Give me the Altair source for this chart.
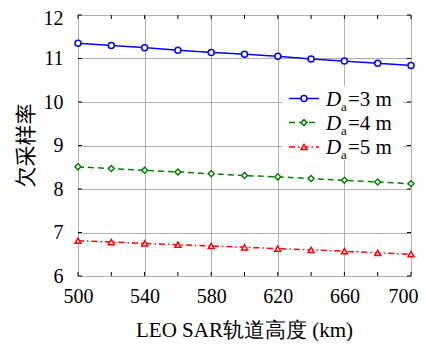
import altair as alt
import pandas as pd

heights = [500, 520, 540, 560, 580, 600, 620, 640, 660, 680, 700]
rate_3m = [11.35, 11.30, 11.25, 11.19, 11.14, 11.10, 11.05, 10.99, 10.94, 10.89, 10.84]
rate_4m = [8.51, 8.47, 8.43, 8.39, 8.35, 8.31, 8.28, 8.24, 8.20, 8.16, 8.12]
rate_5m = [6.81, 6.78, 6.75, 6.72, 6.69, 6.66, 6.63, 6.60, 6.57, 6.53, 6.50]
series_names = ["3 m", "4 m", "5 m"]
y_ticks = [6, 7, 8, 9, 10, 11, 12]
x_ticks = heights

rows = []
for name, vals in zip(series_names, [rate_3m, rate_4m, rate_5m]):
    for h, v in zip(heights, vals):
        rows.append({"h": h, "r": v, "s": name})
df = pd.DataFrame(rows)

W, H = 333, 261
TOP = 7
SERIF = "Liberation Serif"
colors = ["#0000ff", "#008000", "#ff0000"]
dashes = [[1, 0], [6, 4], [6, 3, 1.5, 3]]
shapes = ["circle", "diamond", "triangle-up"]

xenc = alt.X(
    "h:Q",
    scale=alt.Scale(domain=[500, 700], nice=False),
    axis=alt.Axis(
        values=x_ticks,
        labelExpr="(datum.value - 500) % 40 == 0 ? datum.label : ''",
        title="LEO SAR轨道高度 (km)",
        grid=True, gridColor="#b0b0b0", gridWidth=1,
        ticks=False, domain=False, labelFlush=False, labelOverlap=False,
        labelOffset={"condition": {"test": "datum.value == 700", "value": -8}, "value": 0},
        labelFont=SERIF, labelFontSize=20, labelColor="black", labelPadding=10,
        titleFont=SERIF, titleFontSize=21, titleFontWeight="normal", titleColor="black",
        titleX=166, titleY=60, titleBaseline="alphabetic", titleAlign="center",
    ),
)
yenc = alt.Y(
    "r:Q",
    scale=alt.Scale(domain=[6, 12], nice=False),
    axis=alt.Axis(
        values=y_ticks, format="d",
        title="欠采样率",
        grid=True, gridColor="#b0b0b0", gridWidth=1,
        ticks=False, domain=False, labelFlush=False, labelOverlap=False,
        labelOffset={"condition": {"test": "datum.value == 12", "value": 3}, "value": 0},
        labelFont=SERIF, labelFontSize=20, labelColor="black", labelPadding=15,
        titleFont="Noto Sans CJK SC", titleFontSize=21, titleFontWeight="normal", titleColor="black",
        titleX=-52, titleY=130, titleAngle=270, titleBaseline="middle", titleAlign="center",
    ),
)

cscale = alt.Scale(domain=series_names, range=colors)
base = alt.Chart(df)
lines = base.mark_line(strokeWidth=1.5).encode(
    x=xenc, y=yenc,
    color=alt.Color("s:N", scale=cscale, legend=None),
    strokeDash=alt.StrokeDash("s:N", scale=alt.Scale(domain=series_names, range=dashes), legend=None),
)
points = base.mark_point(filled=False, fill="white", strokeWidth=1.5, size=36, opacity=1).encode(
    x="h:Q", y="r:Q",
    color=alt.Color("s:N", scale=cscale, legend=None),
    shape=alt.Shape("s:N", scale=alt.Scale(domain=series_names, range=shapes), legend=None),
)

# inward ticks on all four sides
ytick_df = pd.DataFrame({"v": y_ticks})
xtick_df = pd.DataFrame({"v": x_ticks})
tick_layers = [
    alt.Chart(ytick_df).mark_rule(color="black", strokeWidth=1).encode(
        y="v:Q", x=alt.value(0), x2=alt.value(4)),
    alt.Chart(ytick_df).mark_rule(color="black", strokeWidth=1).encode(
        y="v:Q", x=alt.value(W - 4), x2=alt.value(W)),
    alt.Chart(xtick_df).mark_rule(color="black", strokeWidth=1).encode(
        x="v:Q", y=alt.value(H - 4), y2=alt.value(H)),
    alt.Chart(xtick_df).mark_rule(color="black", strokeWidth=1).encode(
        x="v:Q", y=alt.value(0), y2=alt.value(4)),
]

# legend drawn manually
leg_df = pd.DataFrame({"s": series_names, "lab": ["=" + n for n in series_names]})
legend_layers = [
    alt.Chart(leg_df.head(1)).mark_rect(fill="white", stroke=None).encode(
        x=alt.value(204), x2=alt.value(325), y=alt.value(71), y2=alt.value(145))
]
row_y = [83.6, 107.6, 132.0]
for i, name in enumerate(series_names):
    d = leg_df.iloc[[i]]
    yr = row_y[i]
    legend_layers += [
        alt.Chart(d).mark_rule(color=colors[i], strokeWidth=1.5, strokeDash=dashes[i]).encode(
            x=alt.value(211), x2=alt.value(241), y=alt.value(yr)),
        alt.Chart(d).mark_point(shape=shapes[i], color=colors[i], filled=False, fill="white",
                                strokeWidth=1.5, size=36, opacity=1).encode(
            x=alt.value(226), y=alt.value(yr)),
        alt.Chart(d).mark_text(align="left", baseline="alphabetic", font=SERIF,
                               fontStyle="italic", fontSize=21, color="black").encode(
            x=alt.value(248), y=alt.value(yr + 7), text=alt.value("D")),
        alt.Chart(d).mark_text(align="left", baseline="alphabetic", font=SERIF,
                               fontSize=13, color="black").encode(
            x=alt.value(263), y=alt.value(yr + 12), text=alt.value("a")),
        alt.Chart(d).mark_text(align="left", baseline="alphabetic", font=SERIF,
                               fontSize=21, color="black").encode(
            x=alt.value(270), y=alt.value(yr + 7), text="lab:N"),
    ]

chart = alt.layer(lines, points, *tick_layers, *legend_layers).properties(
    width=W, height=H,
    autosize="none",
    padding={"left": 70, "top": TOP, "right": 7, "bottom": 349 - 16 - TOP - H},
).configure_view(stroke="black", strokeWidth=1).configure(background="white")

chart.save("out.html", embed_options={"renderer": "svg", "actions": False})
